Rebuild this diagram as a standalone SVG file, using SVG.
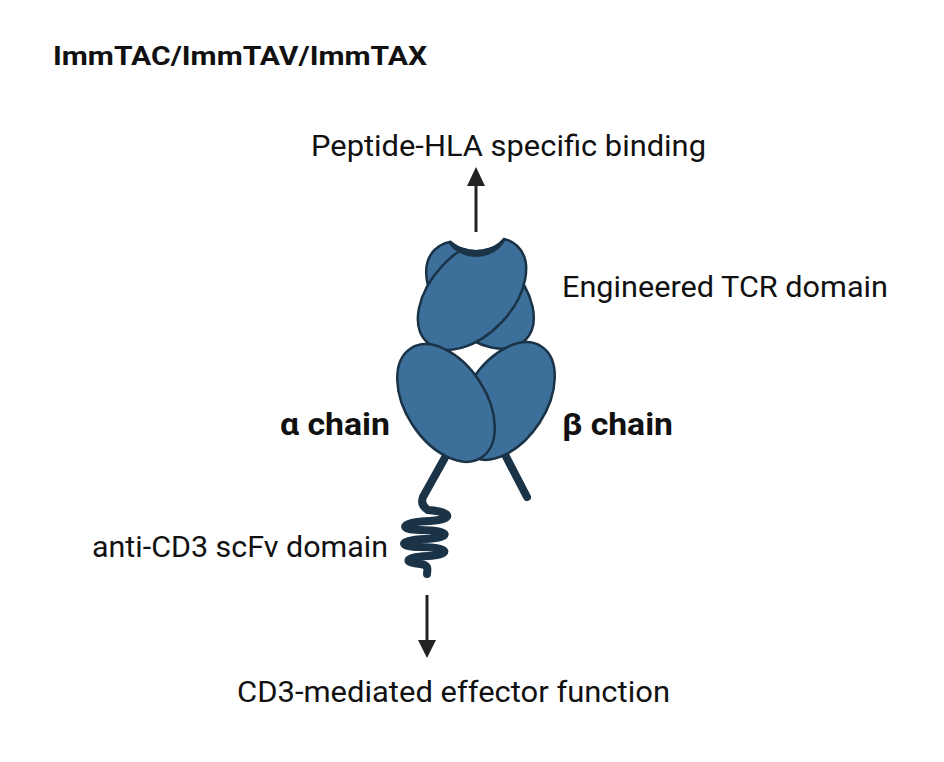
<svg xmlns="http://www.w3.org/2000/svg" width="944" height="762" viewBox="0 0 944 762">
<style>
.t{font-family:Roboto,"Liberation Sans",sans-serif;fill:#111;}
.b{font-weight:bold;}
.dom{fill:#3c6f99;stroke:#1a3347;stroke-width:2.5;}
.stem{fill:none;stroke:#1a3347;stroke-width:8;stroke-linecap:round;stroke-linejoin:round;}
.arr{stroke:#222;stroke-width:3;}
.head{fill:#222;}
</style>
<defs>
<clipPath id="notch" clip-rule="evenodd">
<path clip-rule="evenodd" d="M380,150 H580 V360 H380 Z M508,225 A32,25 0 1 0 444,225 A32,25 0 1 0 508,225 Z"/>
</clipPath>
<clipPath id="topshape">
<ellipse cx="480" cy="295" rx="64" ry="41" transform="rotate(45 480 295)"/>
<ellipse cx="472" cy="294" rx="66" ry="41" transform="rotate(-47 472 294)"/>
</clipPath>
</defs>
<rect width="944" height="762" fill="#fff"/>
<text class="t b" x="53" y="65" font-size="26" textLength="374" lengthAdjust="spacingAndGlyphs">ImmTAC/ImmTAV/ImmTAX</text>
<g id="connectors">
<line class="arr" x1="476" y1="232" x2="476" y2="182"/>
<polygon class="head" points="476,167 467,186 485,186"/>
<line class="arr" x1="427" y1="595" x2="427" y2="642"/>
<polygon class="head" points="418,640 436,640 427,658"/>
</g>
<g id="stems">
<path class="stem" d="M452,445 L423,497 Q420,505 428,510 C455,512 452,520 430,521 C400,522 398,530 420,530 C452,530 452,538 425,539 C398,540 398,547 420,547 C452,547 450,555 428,556 C402,557 405,563 420,564 C430,565 427,570 427,574"/>
<path class="stem" d="M500,445 L527,497"/>
</g>
<g id="tcr-domain" clip-path="url(#notch)">
<ellipse class="dom" cx="480" cy="295" rx="64" ry="41" transform="rotate(45 480 295)"/>
<ellipse class="dom" cx="472" cy="294" rx="66" ry="41" transform="rotate(-47 472 294)"/>
<ellipse cx="476" cy="228" rx="32.5" ry="29" fill="#1a3347" clip-path="url(#topshape)"/>
</g>
<g id="beta-chain">
<ellipse class="dom" cx="506" cy="401" rx="65" ry="40" transform="rotate(-57 506 401)"/>
</g>
<g id="alpha-chain">
<ellipse class="dom" cx="446" cy="403" rx="65" ry="40" transform="rotate(57 446 403)"/>
</g>
<text class="t" x="311" y="156" font-size="29" textLength="395" lengthAdjust="spacingAndGlyphs">Peptide-HLA specific binding</text>
<text class="t" x="562" y="297" font-size="29" textLength="326" lengthAdjust="spacingAndGlyphs">Engineered TCR domain</text>
<text class="t b" x="280" y="435" font-size="31" textLength="110" lengthAdjust="spacingAndGlyphs">α chain</text>
<text class="t b" x="562" y="435" font-size="31" textLength="111" lengthAdjust="spacingAndGlyphs">β chain</text>
<text class="t" x="92" y="557" font-size="29" textLength="296" lengthAdjust="spacingAndGlyphs">anti-CD3 scFv domain</text>
<text class="t" x="237" y="702" font-size="29" textLength="433" lengthAdjust="spacingAndGlyphs">CD3-mediated effector function</text>
</svg>
